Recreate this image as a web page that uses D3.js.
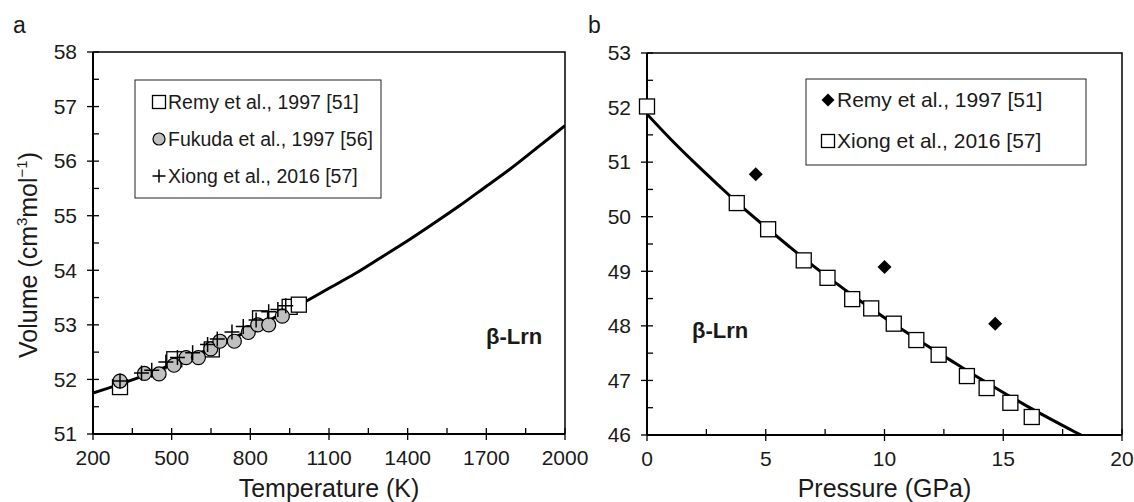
<!DOCTYPE html>
<html>
<head>
<meta charset="utf-8">
<script src="https://cdn.jsdelivr.net/npm/d3@7"></script>
<style>
  body { margin: 0; background: #fff; }
  svg { display: block; font-family: "Liberation Sans", Arial, sans-serif; }
</style>
</head>
<body>
<div id="mainDiv"></div>
<script>
// panel a: temperature (K) vs volume
const tempTicks = [200, 500, 800, 1100, 1400, 1700, 2000];
const volTicksA = [51, 52, 53, 54, 55, 56, 57, 58];

const curveT = [200, 300, 400, 500, 600, 700, 800, 900, 1000, 1100, 1200, 1300, 1400, 1500, 1600, 1700, 1800, 1900, 2000];
const curveVA = [51.75, 51.91, 52.08, 52.27, 52.47, 52.68, 52.91, 53.15, 53.40, 53.67, 53.94, 54.24, 54.54, 54.86, 55.19, 55.54, 55.89, 56.27, 56.65];

const remyT = [303, 510, 653, 837, 950, 985];
const remyV = [51.86, 52.37, 52.55, 53.12, 53.33, 53.37];

const fukudaT = [303, 396, 452, 509, 555, 602, 649, 684, 739, 792, 828, 870, 922];
const fukudaV = [51.97, 52.11, 52.10, 52.26, 52.40, 52.40, 52.56, 52.70, 52.70, 52.86, 53.00, 53.00, 53.16];

const xiongT = [303, 385, 424, 478, 522, 580, 637, 674, 730, 773, 822, 870, 905, 935];
const xiongV = [51.97, 52.12, 52.17, 52.32, 52.40, 52.49, 52.64, 52.74, 52.87, 52.97, 53.09, 53.24, 53.28, 53.35];

// panel b: pressure (GPa) vs volume
const presTicks = [0, 5, 10, 15, 20];
const volTicksB = [46, 47, 48, 49, 50, 51, 52, 53];

const curveP = [0, 1, 2, 3, 4, 5, 6, 7, 8, 9, 10, 11, 12, 13, 14, 15, 16, 17, 18, 18.5];
const curveVB = [51.88, 51.42, 50.99, 50.58, 50.18, 49.81, 49.45, 49.10, 48.77, 48.45, 48.15, 47.86, 47.58, 47.31, 47.04, 46.78, 46.53, 46.29, 46.06, 45.95];

const remyP = [4.58, 10.0, 14.66];
const remyPV = [50.78, 49.08, 48.04];

const xiongP = [0, 3.78, 5.1, 6.6, 7.6, 8.64, 9.44, 10.39, 11.34, 12.28, 13.47, 14.3, 15.3, 16.2];
const xiongPV = [52.02, 50.25, 49.77, 49.20, 48.88, 48.49, 48.32, 48.04, 47.74, 47.47, 47.08, 46.86, 46.59, 46.33];

const width = 1134, height = 502;
const textColor = "#1a1a1a";

const svg = d3.select("#mainDiv")
  .append("svg")
  .attr("width", width)
  .attr("height", height);

function drawMarker(g, type, cx, cy, s) {
  if (type === "square") {
    g.append("rect")
      .attr("x", cx - s).attr("y", cy - s)
      .attr("width", 2 * s).attr("height", 2 * s)
      .attr("fill", "#fff").attr("stroke", "#000").attr("stroke-width", 1.3);
  } else if (type === "circle") {
    g.append("circle")
      .attr("cx", cx).attr("cy", cy).attr("r", s)
      .attr("fill", "#c0c0c0").attr("stroke", "#000").attr("stroke-width", 1.2);
  } else if (type === "cross") {
    g.append("path")
      .attr("d", `M${cx - s},${cy}H${cx + s}M${cx},${cy - s}V${cy + s}`)
      .attr("stroke", "#000").attr("stroke-width", 1.5).attr("fill", "none");
  } else if (type === "diamond") {
    g.append("path")
      .attr("d", `M${cx},${cy - s}L${cx + s},${cy}L${cx},${cy + s}L${cx - s},${cy}Z`)
      .attr("fill", "#000");
  }
}

const markerSize = { square: 7.5, circle: 7, cross: 7.5, diamond: 7 };
const legendMarkerSize = { square: 6.5, circle: 6, cross: 6.5, diamond: 6.5 };

function drawPanel(cfg) {
  const { left, right, top, bottom } = cfg.box;
  const x = d3.scaleLinear().domain(cfg.xDomain).range([left, right]);
  const y = d3.scaleLinear().domain(cfg.yDomain).range([bottom, top]);
  const g = svg.append("g");

  // plot frame (top and right)
  g.append("path")
    .attr("d", `M${left},${top}H${right}V${bottom}`)
    .attr("fill", "none").attr("stroke", "#000").attr("stroke-width", 1.5);

  // x axis
  const xMinor = [];
  for (let i = 0; i < cfg.xTicks.length - 1; i++) {
    xMinor.push((cfg.xTicks[i] + cfg.xTicks[i + 1]) / 2);
  }
  const xAxis = g.append("g").attr("transform", `translate(0,${bottom})`);
  xAxis.append("line").attr("x1", left).attr("x2", right)
    .attr("stroke", "#000").attr("stroke-width", 2);
  xAxis.selectAll(".maj").data(cfg.xTicks).join("line")
    .attr("x1", d => x(d)).attr("x2", d => x(d)).attr("y1", -6).attr("y2", 6)
    .attr("stroke", "#000").attr("stroke-width", 1.3);
  xAxis.selectAll(".min").data(xMinor).join("line")
    .attr("x1", d => x(d)).attr("x2", d => x(d)).attr("y1", -6).attr("y2", 0)
    .attr("stroke", "#000").attr("stroke-width", 1.3);
  xAxis.selectAll("text").data(cfg.xTicks).join("text")
    .attr("x", d => x(d)).attr("y", 31)
    .attr("text-anchor", "middle").attr("font-size", 21).attr("fill", textColor)
    .text(d => d);

  // y axis
  const yMinor = [];
  for (let i = 0; i < cfg.yTicks.length - 1; i++) {
    yMinor.push((cfg.yTicks[i] + cfg.yTicks[i + 1]) / 2);
  }
  const yAxis = g.append("g").attr("transform", `translate(${left},0)`);
  yAxis.append("line").attr("y1", top).attr("y2", bottom)
    .attr("stroke", "#000").attr("stroke-width", 2);
  yAxis.selectAll(".maj").data(cfg.yTicks).join("line")
    .attr("y1", d => y(d)).attr("y2", d => y(d)).attr("x1", -6).attr("x2", 6)
    .attr("stroke", "#000").attr("stroke-width", 1.3);
  yAxis.selectAll(".min").data(yMinor).join("line")
    .attr("y1", d => y(d)).attr("y2", d => y(d)).attr("x1", 0).attr("x2", 6)
    .attr("stroke", "#000").attr("stroke-width", 1.3);
  yAxis.selectAll("text").data(cfg.yTicks).join("text")
    .attr("x", -16).attr("y", d => y(d)).attr("dy", "0.35em")
    .attr("text-anchor", "end").attr("font-size", 21).attr("fill", textColor)
    .text(d => d);

  // axis title
  g.append("text")
    .attr("x", (left + right) / 2).attr("y", 497)
    .attr("text-anchor", "middle").attr("font-size", 25).attr("fill", textColor)
    .text(cfg.xTitle);

  // panel letter
  g.append("text")
    .attr("x", cfg.letterX).attr("y", 33)
    .attr("font-size", 23).attr("fill", textColor)
    .text(cfg.letter);

  // curve, clipped to plot area
  const clipId = "clip-" + cfg.letter;
  g.append("clipPath").attr("id", clipId)
    .append("rect").attr("x", left).attr("y", top)
    .attr("width", right - left).attr("height", bottom - top);
  const line = d3.line().x(d => x(d[0])).y(d => y(d[1])).curve(d3.curveMonotoneX);
  g.append("path")
    .datum(d3.zip(cfg.curveX, cfg.curveY))
    .attr("clip-path", `url(#${clipId})`)
    .attr("d", line)
    .attr("fill", "none").attr("stroke", "#000").attr("stroke-width", 3);

  // data series
  cfg.series.forEach(s => {
    const sg = g.append("g");
    s.xs.forEach((v, i) => drawMarker(sg, s.marker, x(v), y(s.ys[i]), markerSize[s.marker]));
  });

  // legend
  const L = cfg.legend;
  const lg = g.append("g");
  lg.append("rect")
    .attr("x", L.x).attr("y", L.y)
    .attr("width", L.w).attr("height", L.h)
    .attr("fill", "#fff").attr("stroke", "#222").attr("stroke-width", 1);
  cfg.series.forEach((s, i) => {
    const cy = L.y + L.first + i * L.step;
    const cx = L.x + L.markerDx;
    drawMarker(lg, s.marker, cx, cy, legendMarkerSize[s.marker]);
    lg.append("text")
      .attr("x", cx + 9).attr("y", cy).attr("dy", "0.35em")
      .attr("font-size", L.font).attr("fill", textColor)
      .text(s.label);
  });

  // phase label
  g.append("text")
    .attr("x", cfg.phase.x).attr("y", cfg.phase.y)
    .attr("font-size", 22).attr("font-weight", "bold").attr("fill", textColor)
    .text("β-Lrn");

  return { x, y };
}

drawPanel({
  letter: "a", letterX: 13,
  box: { left: 93, right: 565, top: 52, bottom: 434 },
  xDomain: [200, 2000], yDomain: [51, 58],
  xTicks: tempTicks, yTicks: volTicksA,
  xTitle: "Temperature (K)",
  curveX: curveT, curveY: curveVA,
  series: [
    { label: "Remy et al., 1997 [51]", marker: "square", xs: remyT, ys: remyV },
    { label: "Fukuda et al., 1997 [56]", marker: "circle", xs: fukudaT, ys: fukudaV },
    { label: "Xiong et al., 2016 [57]", marker: "cross", xs: xiongT, ys: xiongV },
  ],
  legend: { x: 135, y: 80, w: 246, h: 118, first: 22, step: 37, markerDx: 24, font: 19.5 },
  phase: { x: 486, y: 344 },
});

drawPanel({
  letter: "b", letterX: 588,
  box: { left: 647, right: 1122, top: 53, bottom: 435 },
  xDomain: [0, 20], yDomain: [46, 53],
  xTicks: presTicks, yTicks: volTicksB,
  xTitle: "Pressure (GPa)",
  curveX: curveP, curveY: curveVB,
  series: [
    { label: "Remy et al., 1997 [51]", marker: "diamond", xs: remyP, ys: remyPV },
    { label: "Xiong et al., 2016 [57]", marker: "square", xs: xiongP, ys: xiongPV },
  ],
  legend: { x: 806, y: 79, w: 280, h: 86, first: 21, step: 41, markerDx: 22, font: 21 },
  phase: { x: 692, y: 338 },
});

// y axis title with superscripts
const yTitle = svg.append("text")
  .attr("transform", "translate(37,255) rotate(-90)")
  .attr("text-anchor", "middle").attr("font-size", 25).attr("fill", textColor);
yTitle.append("tspan").text("Volume (cm");
yTitle.append("tspan").attr("font-size", 15).attr("dy", -10).text("3");
yTitle.append("tspan").attr("dy", 10).text("mol");
yTitle.append("tspan").attr("font-size", 15).attr("dy", -10).text("−1");
yTitle.append("tspan").attr("dy", 10).text(")");
</script>
</body>
</html>
